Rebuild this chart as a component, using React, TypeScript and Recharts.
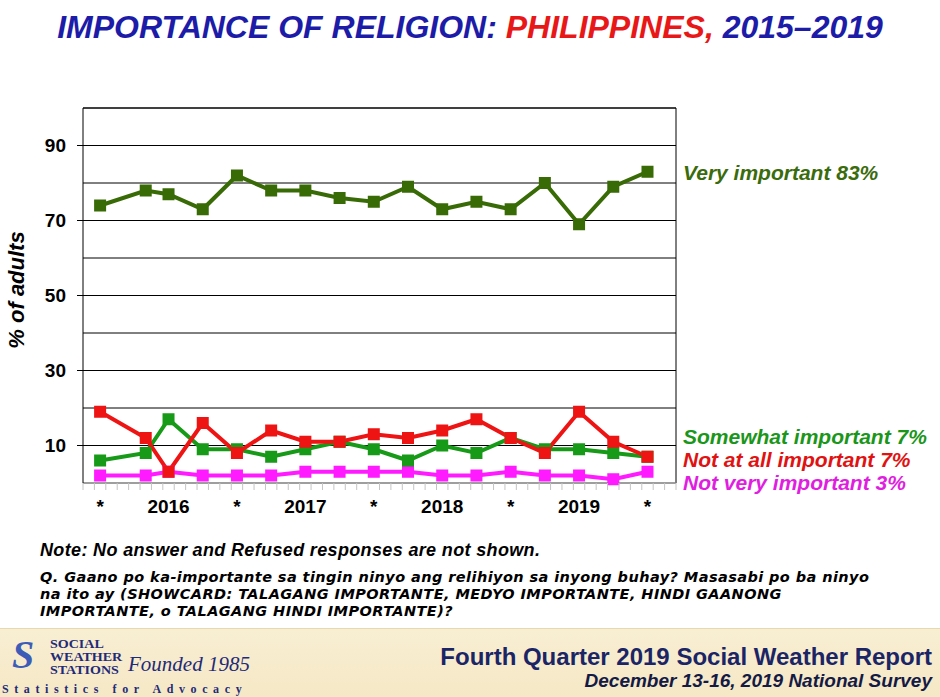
import { CartesianGrid, Line, LineChart, ReferenceLine, XAxis, YAxis } from 'recharts';

// survey months counted from Dec 2015 (Q4 2015 = 0)
const surveyMonths = [0, 4, 6, 9, 12, 15, 18, 21, 24, 27, 30, 33, 36, 39, 42, 45, 48];
const veryImportant = [74, 78, 77, 73, 82, 78, 78, 76, 75, 79, 73, 75, 73, 80, 69, 79, 83];
const somewhatImportant = [6, 8, 17, 9, 9, 7, 9, 11, 9, 6, 10, 8, 12, 9, 9, 8, 7];
const notAtAllImportant = [19, 12, 3, 16, 8, 14, 11, 11, 13, 12, 14, 17, 12, 8, 19, 11, 7];
const notVeryImportant = [2, 2, 3, 2, 2, 2, 3, 3, 3, 3, 2, 2, 3, 2, 2, 1, 3];

const xLabelMonths = [0, 6, 12, 18, 24, 30, 36, 42, 48];
const xLabels = ['*', '2016', '*', '2017', '*', '2018', '*', '2019', '*'];
const yGridTicks = [10, 20, 30, 40, 50, 60, 70, 80, 90];
const yLabelTicks = [10, 30, 50, 70, 90];

const X_DOMAIN: [number, number] = [-1.5, 50.5];
// small monthly tick marks sit between the months
const minorTicks: number[] = [];
for (let m = X_DOMAIN[0]; m <= X_DOMAIN[1]; m += 1) minorTicks.push(m);
const allXTicks = [...minorTicks, ...xLabelMonths].sort((a, b) => a - b);

const COLORS = {
  very: '#386b06',
  somewhat: '#179a17',
  notAtAll: '#ee1414',
  notVery: '#ff1aff',
};

const chartData = surveyMonths.map((m, i) => ({
  m,
  very: veryImportant[i],
  somewhat: somewhatImportant[i],
  notAtAll: notAtAllImportant[i],
  notVery: notVeryImportant[i],
}));

const ARIAL = '"Liberation Sans", Arial, sans-serif';
const SERIF = '"Liberation Serif", serif';

function squareDot(color: string) {
  return (props: { cx?: number; cy?: number; index?: number }) => {
    const { cx, cy, index } = props;
    if (cx == null || cy == null) return <g key={index} />;
    return <rect key={index} x={cx - 6} y={cy - 6} width={12} height={12} fill={color} />;
  };
}

function XTick({ x, y, payload }: { x?: number; y?: number; payload?: { value: number } }) {
  const v = payload?.value ?? 0;
  const px = x ?? 0;
  const py = y ?? 0;
  const idx = xLabelMonths.indexOf(v);
  if (idx < 0) {
    return <line x1={px} x2={px} y1={py} y2={py + 7} stroke="#c4c4c4" />;
  }
  return (
    <text x={px} y={py + 30} textAnchor="middle" fontFamily={ARIAL} fontWeight="bold" fontSize={19} fill="#000">
      {xLabels[idx]}
    </text>
  );
}

function YTick({ x, y, payload }: { x?: number; y?: number; payload?: { value: number } }) {
  const v = payload?.value ?? 0;
  if (!yLabelTicks.includes(v)) return <g />;
  const px = x ?? 0;
  return (
    <g>
      <line x1={px} x2={px + 6} y1={y} y2={y} stroke="#000" />
      <text
        x={px - 11}
        y={y}
        dy="0.36em"
        textAnchor="end"
        fontFamily={ARIAL}
        fontWeight="bold"
        fontSize={19}
        fill="#000"
      >
        {v}
      </text>
    </g>
  );
}

const legendStyle = (top: number, color: string): React.CSSProperties => ({
  position: 'absolute',
  left: 683,
  top,
  fontFamily: ARIAL,
  fontWeight: 'bold',
  fontStyle: 'italic',
  fontSize: 21,
  lineHeight: '22px',
  color,
  whiteSpace: 'nowrap',
});

const questionLine = (top: number): React.CSSProperties => ({
  position: 'absolute',
  left: 40,
  top,
  fontFamily: '"DejaVu Sans", "Liberation Sans", sans-serif',
  fontWeight: 'bold',
  fontStyle: 'italic',
  fontSize: 14.5,
  letterSpacing: 0.42,
  lineHeight: '17px',
  height: 17,
  color: '#000',
  whiteSpace: 'nowrap',
});

const logoLine = (top: number): React.CSSProperties => ({
  position: 'absolute',
  left: 50,
  top,
  fontFamily: SERIF,
  fontWeight: 'bold',
  fontSize: 11.5,
  lineHeight: '13px',
  height: 13,
  color: '#1f2a78',
  whiteSpace: 'nowrap',
  transform: 'scaleX(1.22)',
  transformOrigin: 'left center',
});

export default function App() {
  return (
    <div
      style={{
        position: 'absolute',
        left: 0,
        top: 0,
        width: 940,
        height: 697,
        background: '#fff',
        overflow: 'hidden',
      }}
    >
      <div
        style={{
          position: 'absolute',
          left: 0,
          top: 8,
          width: 940,
          textAlign: 'center',
          fontFamily: ARIAL,
          fontWeight: 'bold',
          fontStyle: 'italic',
          fontSize: 32,
          lineHeight: '38px',
          color: '#1c1ca8',
          whiteSpace: 'nowrap',
        }}
      >
        IMPORTANCE OF RELIGION: <span style={{ color: '#e81818' }}>PHILIPPINES,</span> 2015–2019
      </div>

      <div style={{ position: 'absolute', left: 0, top: 0 }}>
        <LineChart width={940} height={530} data={chartData} margin={{ top: 108, right: 264, bottom: 0, left: 0 }}>
          <CartesianGrid vertical={false} stroke="#000" strokeWidth={1} />
          <XAxis
            dataKey="m"
            type="number"
            domain={X_DOMAIN}
            allowDataOverflow
            ticks={allXTicks}
            interval={0}
            tick={<XTick />}
            tickLine={false}
            tickSize={0}
            tickMargin={0}
            axisLine={{ stroke: '#bdbdbd' }}
            height={47}
          />
          <YAxis
            type="number"
            domain={[0, 100]}
            ticks={yGridTicks}
            interval={0}
            width={83}
            axisLine={{ stroke: '#000' }}
            tickLine={false}
            tickSize={6}
            tickMargin={0}
            tick={<YTick />}
          />
          <ReferenceLine y={100} stroke="#000" />
          <ReferenceLine x={X_DOMAIN[1]} stroke="#000" />
          <Line
            type="linear"
            dataKey="very"
            stroke={COLORS.very}
            strokeWidth={4}
            dot={squareDot(COLORS.very)}
            activeDot={false}
            isAnimationActive={false}
          />
          <Line
            type="linear"
            dataKey="notVery"
            stroke={COLORS.notVery}
            strokeWidth={4}
            dot={squareDot(COLORS.notVery)}
            activeDot={false}
            isAnimationActive={false}
          />
          <Line
            type="linear"
            dataKey="somewhat"
            stroke={COLORS.somewhat}
            strokeWidth={4}
            dot={squareDot(COLORS.somewhat)}
            activeDot={false}
            isAnimationActive={false}
          />
          <Line
            type="linear"
            dataKey="notAtAll"
            stroke={COLORS.notAtAll}
            strokeWidth={4}
            dot={squareDot(COLORS.notAtAll)}
            activeDot={false}
            isAnimationActive={false}
          />
        </LineChart>
      </div>

      <div
        style={{
          position: 'absolute',
          left: 17,
          top: 290,
          transform: 'translate(-50%, -50%) rotate(-90deg)',
          fontFamily: ARIAL,
          fontWeight: 'bold',
          fontStyle: 'italic',
          fontSize: 22,
          lineHeight: '24px',
          color: '#000',
          whiteSpace: 'nowrap',
        }}
      >
        % of adults
      </div>

      <div style={legendStyle(162, '#3a6b0c')}>Very important 83%</div>
      <div style={legendStyle(426, '#1a961a')}>Somewhat important 7%</div>
      <div style={legendStyle(449, '#e01212')}>Not at all important 7%</div>
      <div style={legendStyle(472, '#e01ee0')}>Not very important 3%</div>

      <div
        style={{
          position: 'absolute',
          left: 40,
          top: 539,
          fontFamily: ARIAL,
          fontWeight: 'bold',
          fontStyle: 'italic',
          fontSize: 18,
          letterSpacing: 0.35,
          lineHeight: '22px',
          color: '#000',
          whiteSpace: 'nowrap',
        }}
      >
        Note: No answer and Refused responses are not shown.
      </div>
      <div style={questionLine(569)}>
        Q. Gaano po ka-importante sa tingin ninyo ang relihiyon sa inyong buhay? Masasabi po ba ninyo
      </div>
      <div style={questionLine(586)}>
        na ito ay (SHOWCARD: TALAGANG IMPORTANTE, MEDYO IMPORTANTE, HINDI GAANONG
      </div>
      <div style={questionLine(603)}>IMPORTANTE, o TALAGANG HINDI IMPORTANTE)?</div>

      <div
        style={{
          position: 'absolute',
          left: 0,
          top: 628,
          width: 940,
          height: 69,
          background: 'linear-gradient(180deg, #f8eed2 0%, #f5e8c6 100%)',
          borderTop: '1px solid #e6d9b2',
        }}
      >
        <div
          style={{
            position: 'absolute',
            left: 12,
            top: 5,
            fontFamily: SERIF,
            fontWeight: 'bold',
            fontStyle: 'italic',
            fontSize: 40,
            lineHeight: '42px',
            color: '#3c5cb8',
          }}
        >
          S
        </div>
        <div style={logoLine(9)}>SOCIAL</div>
        <div style={logoLine(22)}>WEATHER</div>
        <div style={logoLine(35)}>STATIONS</div>
        <div
          style={{
            position: 'absolute',
            left: 128,
            top: 23,
            fontFamily: SERIF,
            fontStyle: 'italic',
            fontSize: 21,
            lineHeight: '24px',
            color: '#1f2a78',
            whiteSpace: 'nowrap',
          }}
        >
          Founded 1985
        </div>
        <div
          style={{
            position: 'absolute',
            left: 2,
            top: 53,
            fontFamily: SERIF,
            fontWeight: 'bold',
            fontSize: 12,
            lineHeight: '14px',
            letterSpacing: 5.6,
            color: '#1f2a78',
            whiteSpace: 'nowrap',
          }}
        >
          Statistics for Advocacy
        </div>
        <div
          style={{
            position: 'absolute',
            right: 8,
            top: 15,
            fontFamily: ARIAL,
            fontWeight: 'bold',
            fontSize: 24,
            lineHeight: '26px',
            color: '#1b2566',
            whiteSpace: 'nowrap',
          }}
        >
          Fourth Quarter 2019 Social Weather Report
        </div>
        <div
          style={{
            position: 'absolute',
            right: 8,
            top: 42,
            fontFamily: ARIAL,
            fontWeight: 'bold',
            fontStyle: 'italic',
            fontSize: 19,
            lineHeight: '20px',
            color: '#141a44',
            whiteSpace: 'nowrap',
          }}
        >
          December 13-16, 2019 National Survey
        </div>
      </div>
    </div>
  );
}
